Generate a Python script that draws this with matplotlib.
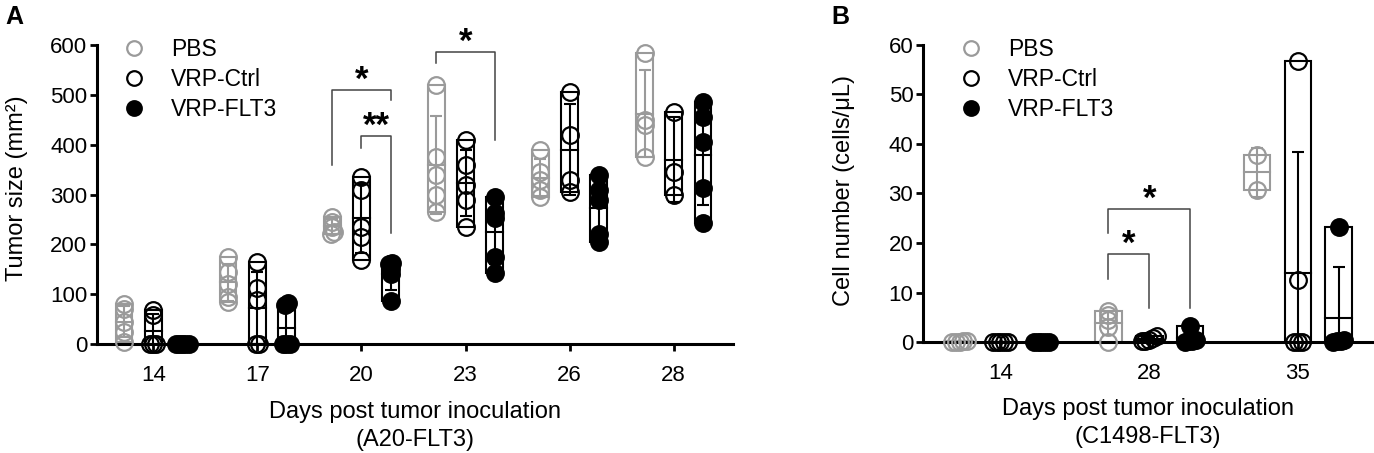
import numpy as np
import matplotlib.pyplot as plt
from matplotlib.lines import Line2D

plt.rcParams['font.family'] = ['Liberation Sans', 'DejaVu Sans']

groups = ['PBS', 'VRP-Ctrl', 'VRP-FLT3']

# panel A: tumor size (mm2), A20-FLT3
days_a = ['14', '17', '20', '23', '26', '28']
pbs_a = [[80, 70, 45, 25, 5],
         [175, 145, 120, 95, 85],
         [255, 245, 235, 225, 220],
         [520, 375, 340, 300, 265],
         [390, 345, 330, 310, 295],
         [585, 450, 440, 375]]
ctrl_a = [[68, 58, 0, 0, 0],
          [164, 112, 88, 0, 0],
          [335, 309, 235, 214, 168],
          [410, 360, 320, 290, 235],
          [505, 420, 330, 305],
          [465, 345, 300]]
flt3_a = [[0, 0, 0, 0, 0],
          [82, 78, 0, 0, 0],
          [162, 160, 150, 140, 86],
          [295, 262, 252, 174, 142],
          [340, 310, 290, 220, 205],
          [485, 455, 405, 313, 242]]

# panel B: cell number (cells/uL), C1498-FLT3
days_b = ['14', '28', '35']
pbs_b = [[0.3, 0.1, 0.0, 0.0, 0.2],
         [6.2, 5.5, 4.5, 3.0, 0.0],
         [37.8, 30.8]]
ctrl_b = [[0.0, 0.0, 0.0, 0.0, 0.0],
          [1.2, 0.8, 0.5, 0.3, 0.2],
          [56.7, 12.5, 0.0, 0.0, 0.0]]
flt3_b = [[0.0, 0.0, 0.0, 0.0, 0.0],
          [3.2, 0.5, 0.3, 0.2, 0.1],
          [23.2, 0.5, 0.3, 0.2, 0.1]]

# significance brackets: (day index, group from, group to, top, left end, right end, label)
sig_a = [(2, 0, 2, 510, 360, 490, '*'),
         (2, 1, 2, 417, 393, 222, '**'),
         (3, 0, 2, 587, 563, 409, '*')]
sig_b = [(1, 0, 2, 26.9, 22.0, 6.9, '*'),
         (1, 0, 1, 17.8, 12.7, 6.9, '*')]

colors = ['#9a9a9a', 'black', 'black']
fills = ['none', 'none', 'black']


def spread(vals, tol, step):
    # push tied values sideways like a column scatter
    order = np.argsort(vals)
    offs = np.zeros(len(vals))
    clusters = []
    for idx in order:
        if clusters and vals[idx] - vals[clusters[-1][-1]] <= tol:
            clusters[-1].append(idx)
        else:
            clusters.append([idx])
    for c in clusters:
        n = len(c)
        for k, idx in enumerate(c):
            offs[idx] = (k - (n - 1) / 2) * step
    return offs


def draw_panel(ax, days, series, width, offset, tol, step, sigs, sig_dy):
    x = np.arange(len(days))
    for g, vals_list in enumerate(series):
        c = colors[g]
        for i, vals in enumerate(vals_list):
            v = np.array(vals, float)
            xc = x[i] + (g - 1) * offset
            lo, hi = v.min(), v.max()
            ax.bar(xc, hi - lo, bottom=lo, width=width, facecolor='none',
                   edgecolor=c, lw=1.5, zorder=2)
            m = v.mean()
            sd = v.std(ddof=1)
            ax.plot([xc - width / 2, xc + width / 2], [m, m], color=c, lw=1.5, zorder=2)
            ax.errorbar(xc, m, yerr=sd, color=c, capsize=4.5, elinewidth=1.5,
                        capthick=1.5, fmt='none', zorder=2)
            ax.plot(xc + spread(v, tol, step), v, 'o', ms=12, mfc=fills[g],
                    mec=c, mew=1.6, clip_on=False, zorder=3)

    for d, g1, g2, top, l_end, r_end, lab in sigs:
        x1 = x[d] + (g1 - 1) * offset
        x2 = x[d] + (g2 - 1) * offset
        ax.plot([x1, x1, x2, x2], [l_end, top, top, r_end], color='#444444', lw=1.1)
        ax.text((x1 + x2) / 2, top + sig_dy, lab, ha='center', va='bottom',
                fontsize=25, fontweight='bold')

    ax.set_xticks(x)
    ax.set_xticklabels(days)
    ax.spines['top'].set_visible(False)
    ax.spines['right'].set_visible(False)
    ax.spines['left'].set_linewidth(2.2)
    ax.spines['bottom'].set_linewidth(2.2)
    ax.tick_params(axis='both', labelsize=16, width=2, length=5)
    ax.tick_params(axis='y', pad=2)
    ax.tick_params(axis='x', pad=10)


fig = plt.figure(figsize=(13.74, 4.53), dpi=100)
ax_a = fig.add_axes([0.0706, 0.2406, 0.4629, 0.66])
ax_b = fig.add_axes([0.6718, 0.2450, 0.327, 0.6557])

draw_panel(ax_a, days_a, [pbs_a, ctrl_a, flt3_a], 0.16, 0.28, 8, 0.03, sig_a, -14)
ax_a.set_ylim(0, 600)
ax_a.set_xlim(-0.54, 5.57)
ax_a.set_yticks(range(0, 601, 100))
ax_a.set_ylabel('Tumor size (mm²)', fontsize=17)
ax_a.yaxis.set_label_coords(-0.108, 0.52)
ax_a.set_xlabel('Days post tumor inoculation\n(A20-FLT3)', fontsize=17, linespacing=1.35)
ax_a.xaxis.set_label_coords(0.5, -0.19)

draw_panel(ax_b, days_b, [pbs_b, ctrl_b, flt3_b], 0.18, 0.275, 0.6, 0.025, sig_b, -1.4)
ax_b.set_ylim(0, 60)
ax_b.set_xlim(-0.52, 2.5)
ax_b.set_yticks(range(0, 61, 10))
ax_b.set_ylabel('Cell number (cells/μL)', fontsize=17)
ax_b.yaxis.set_label_coords(-0.151, 0.51)
ax_b.set_xlabel('Days post tumor inoculation\n(C1498-FLT3)', fontsize=17, linespacing=1.35)
ax_b.xaxis.set_label_coords(0.5, -0.19)

for ax, anchor in [(ax_a, (-0.01, 1.092)), (ax_b, (0.01, 1.092))]:
    handles = [Line2D([], [], ls='none', marker='o', ms=10.5, mfc=fills[g],
                      mec=colors[g], mew=1.6) for g in range(3)]
    ax.legend(handles, groups, loc='upper left', bbox_to_anchor=anchor,
              frameon=False, fontsize=16.5, handletextpad=0.6, labelspacing=0.3)

fig.text(0.004, 0.99, 'A', fontsize=18, fontweight='bold', va='top')
fig.text(0.605, 0.99, 'B', fontsize=18, fontweight='bold', va='top')

fig.savefig('out.png', dpi=100)
